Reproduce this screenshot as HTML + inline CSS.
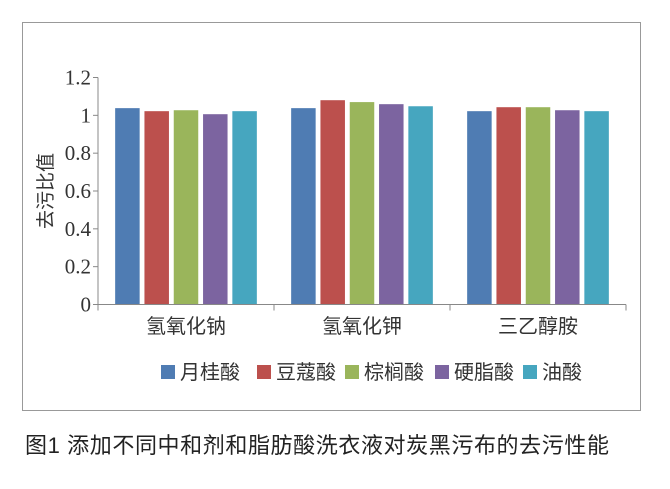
<!DOCTYPE html>
<html><head><meta charset="utf-8"><style>
body{margin:0;background:#fff;font-family:"Liberation Sans","Noto Sans CJK SC",sans-serif;}
svg text{font-family:"Liberation Serif","Noto Sans CJK SC",serif;}
</style></head><body>
<svg width="670" height="484" viewBox="0 0 670 484">
<rect x="22.5" y="22.5" width="618" height="388" fill="#fff" stroke="#999"/>
<g id="plot"></g>
<text x="25" y="453" font-size="22" letter-spacing="0.6" fill="#222" style="font-family:'Liberation Sans','Noto Sans CJK SC',sans-serif">图1  添加不同中和剂和脂肪酸洗衣液对炭黑污布的去污性能</text>
</svg>
<script>
const categories=["氢氧化钠","氢氧化钾","三乙醇胺"];
const seriesNames=["月桂酸","豆蔻酸","棕榈酸","硬脂酸","油酸"];
const s1=[1.038,1.038,1.022];
const s2=[1.022,1.080,1.043];
const s3=[1.027,1.070,1.043];
const s4=[1.006,1.059,1.027];
const s5=[1.022,1.048,1.022];
const yTicks=[0,0.2,0.4,0.6,0.8,1,1.2];
const yTickLabels=["0","0.2","0.4","0.6","0.8","1","1.2"];
const colors=["#4f7cb3","#bc504d","#9ab55b","#7c64a0","#46a6bf"];
const series=[s1,s2,s3,s4,s5];
const NS="http://www.w3.org/2000/svg";
const g=document.getElementById('plot');
const x0=98,x1=626,y0=304.5,yTop=77.5,ymax=1.2;
const y=v=>y0-(v/ymax)*(y0-yTop);
const gw=(x1-x0)/categories.length;
const pitch=29.3,bw=24.5;
function mk(t,a){const e=document.createElementNS(NS,t);for(const k in a)e.setAttribute(k,a[k]);g.appendChild(e);return e;}
categories.forEach((c,i)=>{
  const cx=x0+gw*(i+0.5);
  const start=cx-(pitch*4+bw)/2;
  series.forEach((s,j)=>{
    const r=mk('rect',{x:start+j*pitch,y:y(s[i]),width:bw,height:y0-y(s[i]),fill:colors[j]});
    
    
  });
  const t=mk('text',{x:cx,y:333,'font-size':20,'text-anchor':'middle',fill:'#333'});
  t.textContent=c;
  
  
});
let ax=mk('line',{x1:x0,y1:y0,x2:x0,y2:yTop,stroke:'#888'});


let bx=mk('line',{x1:x0,y1:y0,x2:x1,y2:y0,stroke:'#888'});


for(let i=0;i<=categories.length;i++){
  const tx=x0+gw*i;
  const l=mk('line',{x1:tx,y1:y0,x2:tx,y2:y0+6,stroke:'#888'});
  
  
}
yTicks.forEach((v,i)=>{
  const l=mk('line',{x1:x0-5,y1:y(v),x2:x0,y2:y(v),stroke:'#888'});
  
  
  const t=mk('text',{x:x0-7,y:y(v)+7,'font-size':21,'text-anchor':'end',fill:'#333'});
  t.textContent=yTickLabels[i];
  
  
});
const yt=mk('text',{x:0,y:0,'font-size':19,'text-anchor':'middle',fill:'#333',transform:'translate(52,191) rotate(-90)'});
yt.textContent='去污比值';


const lx=[161,257,345,435,523];
seriesNames.forEach((n,j)=>{
  const r=mk('rect',{x:lx[j],y:365,width:14,height:14,fill:colors[j]});
  
  
  const t=mk('text',{x:lx[j]+19,y:379,'font-size':20,fill:'#333'});
  t.textContent=n;
  
  
});
</script>
</body></html>
